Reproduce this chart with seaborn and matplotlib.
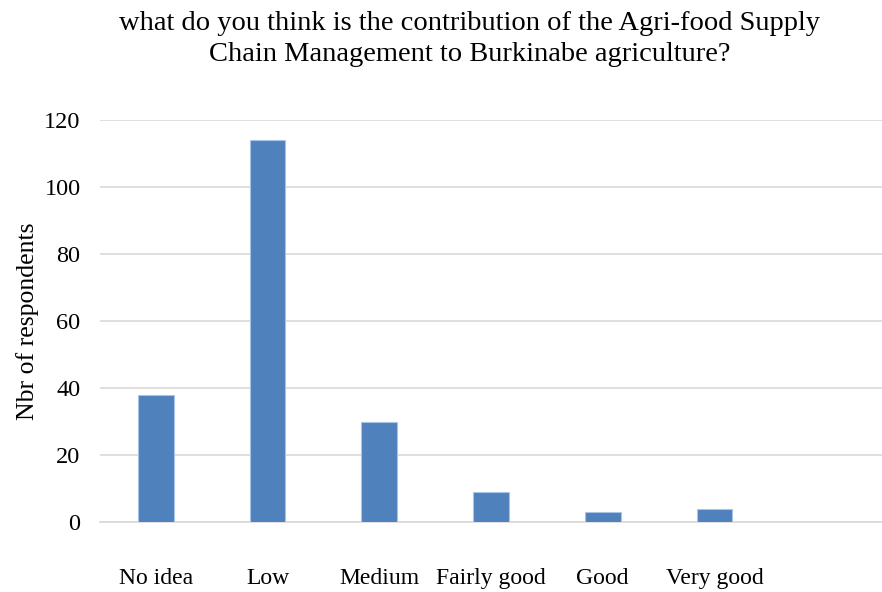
import matplotlib
matplotlib.use("Agg")
import matplotlib.pyplot as plt
import seaborn as sns
import pandas as pd

categories = ["No idea", "Low", "Medium", "Fairly good", "Good", "Very good"]
respondents = [38, 114, 30, 9, 3, 4]
yticks = [0, 20, 40, 60, 80, 100, 120]

sns.set_theme(style="white")
plt.rcParams["font.family"] = ["Liberation Serif", "DejaVu Serif"]

df = pd.DataFrame({"category": categories, "respondents": respondents})

fig = plt.figure(figsize=(8.82, 5.92), dpi=100)
ax = fig.add_axes([100 / 882, 1 - 522 / 592, 782 / 882, (522 - 120) / 592])

sns.barplot(data=df, x="category", y="respondents", order=categories,
            color="#4F81BD", saturation=1, width=0.32,
            edgecolor="#A9C4E6", linewidth=0.8, ax=ax, zorder=3)

ax.set_xlim(-0.5, 6.5)
ax.set_ylim(0, 120)
ax.set_yticks(yticks)
ax.set_yticklabels([str(t) for t in yticks], fontsize=17.5, color="#000000")
ax.tick_params(axis="y", length=0, pad=14)
ax.tick_params(axis="x", length=0, pad=33, labelsize=17, labelcolor="#000000")
ax.grid(axis="y", color="#D9D9D9", linewidth=1.2, zorder=0)
ax.grid(axis="x", visible=False)
for side in ["top", "right", "left"]:
    ax.spines[side].set_visible(False)
ax.spines["bottom"].set_color("#D9D9D9")
ax.spines["bottom"].set_linewidth(1.2)

ax.set_xlabel("")
ax.set_ylabel("Nbr of respondents", fontsize=18.5, color="#000000", labelpad=4)

fig.text(470 / 882, 1 - 39 / 592,
         "what do you think is the contribution of the Agri-food Supply\n"
         "Chain Management to Burkinabe agriculture?",
         ha="center", va="center", fontsize=20.5, color="#000000",
         linespacing=1.3)

fig.savefig("out.png", dpi=100, facecolor="white")
